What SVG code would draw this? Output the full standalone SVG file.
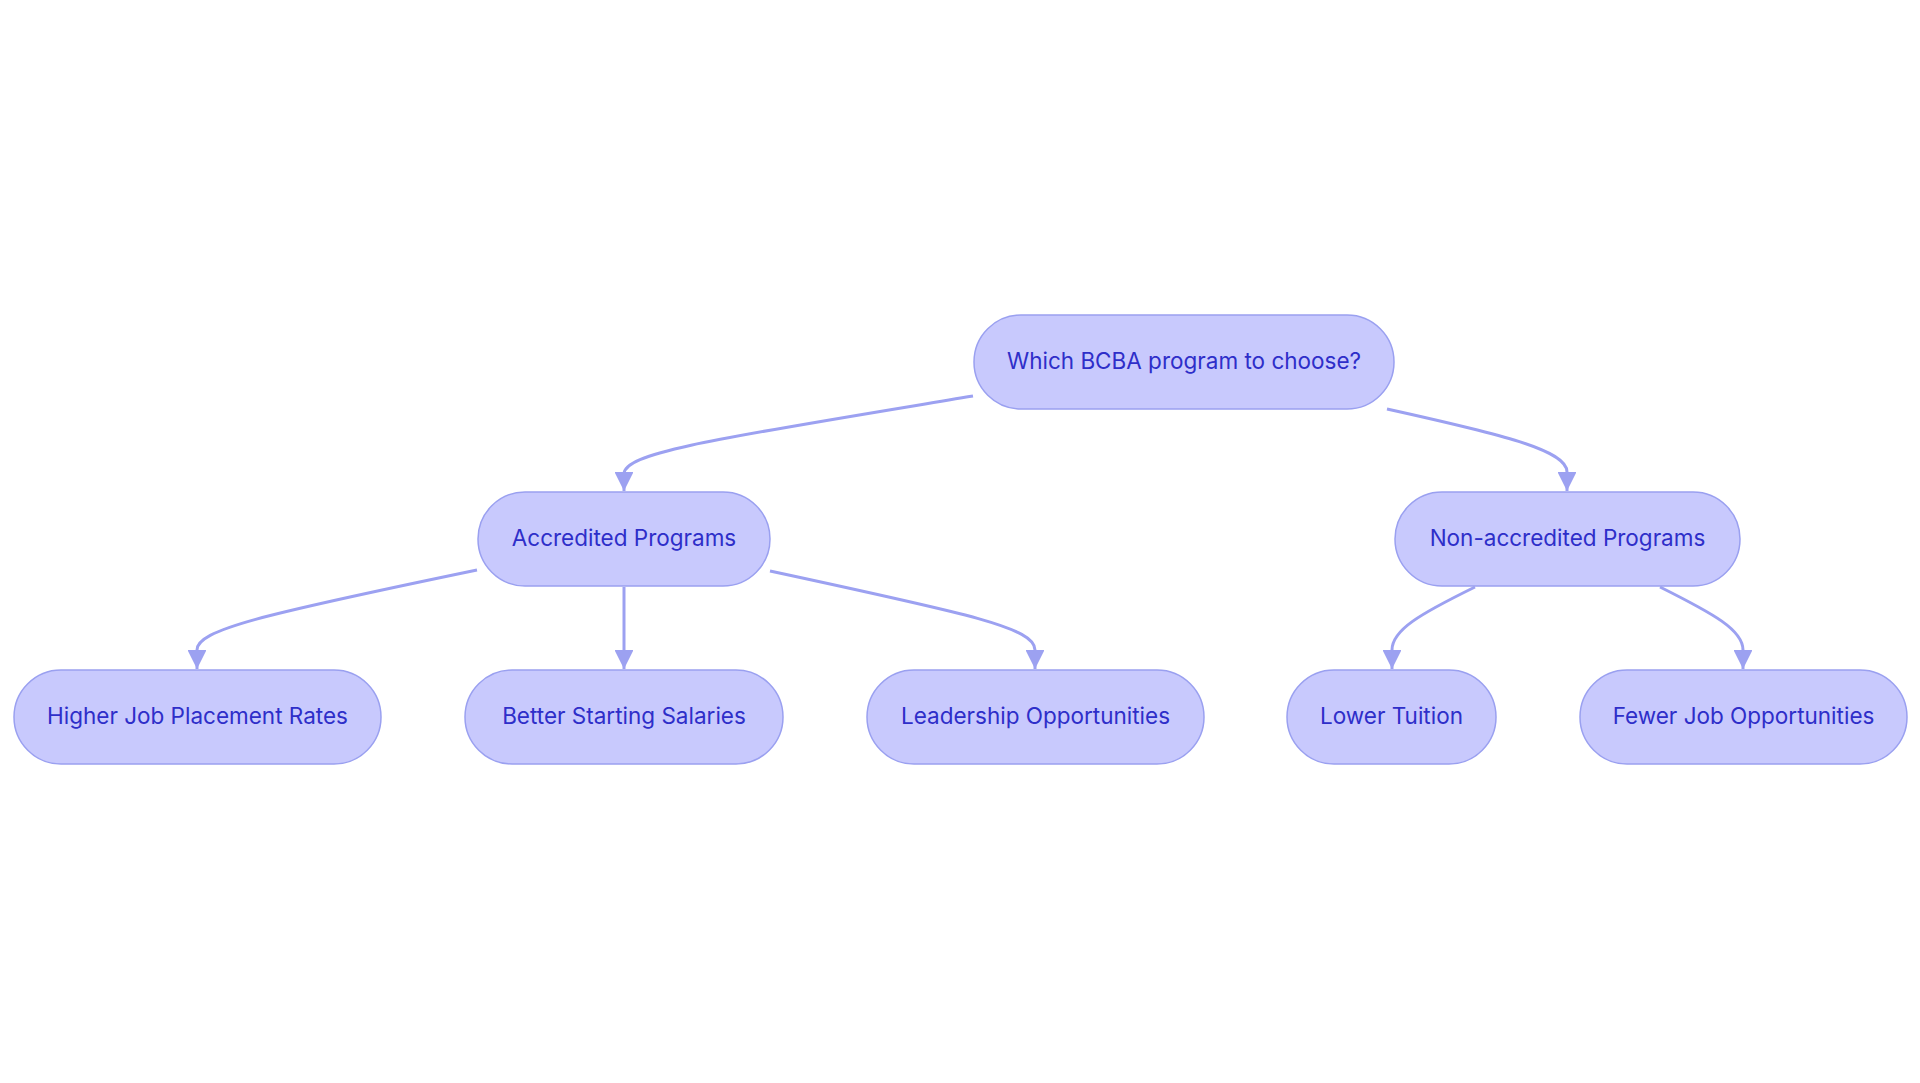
<svg xmlns="http://www.w3.org/2000/svg" width="1920" height="1083" viewBox="0 0 1920 1083">
<style>
.node rect{fill:#c8c9fd;stroke:#9aa0f0;stroke-width:1.5}
.node text{font-family:Inter,"Liberation Sans",sans-serif;font-size:22.5px;font-weight:400;fill:#2e2ec9;text-anchor:middle;dominant-baseline:central}
.edge{fill:none;stroke:#9ca1f1;stroke-width:3}
</style>
<defs>
<marker id="arr" viewBox="0 0 10 10" refX="10" refY="5" markerWidth="6.3" markerHeight="6.3" markerUnits="strokeWidth" orient="auto">
<path d="M0,0 L10,5 L0,10 Z" fill="#9ca1f1"/>
</marker>
</defs>
<rect width="1920" height="1083" fill="#ffffff"/>
<g id="connectors">
<path class="edge" marker-end="url(#arr)" d="M973,396 C720,438 624,452 624,474 L624,491"/>
<path class="edge" marker-end="url(#arr)" d="M1387,409 C1500,434 1567,450 1567,472 L1567,491"/>
<path class="edge" marker-end="url(#arr)" d="M477,570 C260,615 197,630 197,650 L197,669"/>
<path class="edge" marker-end="url(#arr)" d="M624,587 L624,669"/>
<path class="edge" marker-end="url(#arr)" d="M770,571 C970,614 1035,628 1035,650 L1035,669"/>
<path class="edge" marker-end="url(#arr)" d="M1475,587 C1420,614 1392,630 1392,650 L1392,669"/>
<path class="edge" marker-end="url(#arr)" d="M1660,587 C1714,614 1743,630 1743,650 L1743,669"/>
</g>
<g id="root" class="node"><rect x="974" y="315" width="420" height="94" rx="47"/><text x="1184" y="360.5">Which BCBA program to choose?</text></g>
<g id="accredited" class="node"><rect x="478" y="492" width="292" height="94" rx="47"/><text x="624" y="537.5">Accredited Programs</text></g>
<g id="nonaccredited" class="node"><rect x="1395" y="492" width="345" height="94" rx="47"/><text x="1567.5" y="537.5">Non-accredited Programs</text></g>
<g id="higher" class="node"><rect x="14" y="670" width="367" height="94" rx="47"/><text x="197.5" y="715.5">Higher Job Placement Rates</text></g>
<g id="better" class="node"><rect x="465" y="670" width="318" height="94" rx="47"/><text x="624" y="715.5">Better Starting Salaries</text></g>
<g id="leadership" class="node"><rect x="867" y="670" width="337" height="94" rx="47"/><text x="1035.5" y="715.5">Leadership Opportunities</text></g>
<g id="lower" class="node"><rect x="1287" y="670" width="209" height="94" rx="47"/><text x="1391.5" y="715.5">Lower Tuition</text></g>
<g id="fewer" class="node"><rect x="1580" y="670" width="327" height="94" rx="47"/><text x="1743.5" y="715.5">Fewer Job Opportunities</text></g>
</svg>
